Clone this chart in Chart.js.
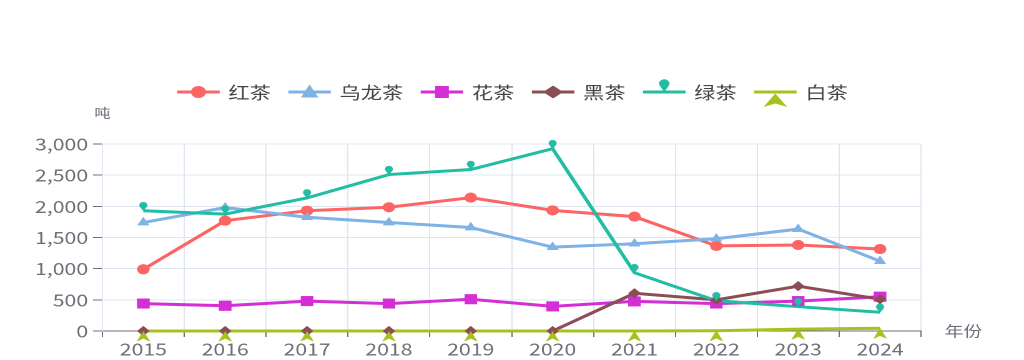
<!DOCTYPE html>
<html><head><meta charset="utf-8">
<script src="https://cdn.jsdelivr.net/npm/chart.js@4.4.1/dist/chart.umd.min.js"></script>
<style>
html,body{margin:0;padding:0;background:#fff;overflow:hidden;width:1024px;height:360px}
#wrap{position:absolute;left:0;top:0;width:820px;height:360px;transform:scaleX(1.24878);transform-origin:0 0}
</style></head><body>
<div id="wrap"><canvas id="c"></canvas></div>
<script>
// ---- data ----
const years = ['2015','2016','2017','2018','2019','2020','2021','2022','2023','2024'];
const blackTeaRed = [990, 1770, 1930, 1985, 2140, 1935, 1835, 1365, 1380, 1315];   // 红茶
const oolongTea   = [1740, 1980, 1825, 1740, 1660, 1345, 1400, 1480, 1635, 1120]; // 乌龙茶
const flowerTea   = [440, 405, 480, 440, 510, 395, 475, 440, 480, 550];           // 花茶
const darkTea     = [0, 0, 0, 0, 0, 0, 605, 500, 720, 510];                       // 黑茶
const greenTea    = [1930, 1875, 2135, 2510, 2590, 2925, 935, 485, 390, 300];     // 绿茶
const whiteTea    = [0, 0, 0, 0, 0, 0, 0, 5, 30, 45];                              // 白茶
const seriesNames = ['红茶', '乌龙茶', '花茶', '黑茶', '绿茶', '白茶'];
const yTickValues = [0, 500, 1000, 1500, 2000, 2500, 3000];
const yAxisName = '吨';
const xAxisName = '年份';

// ---- styles ----
const seriesData = [blackTeaRed, oolongTea, flowerTea, darkTea, greenTea, whiteTea];
const colors = ['#fd6464', '#7fb2e5', '#d42fd4', '#8b4e55', '#22bda3', '#a6c21c'];
const FONT = '"Noto Sans CJK SC", "Noto Sans", sans-serif';
const AXIS_COLOR = '#6e7079';
const GRID_COLOR = '#e0e6f1';

function pinPath(g, x, tipY, r, h) {
  const cy = tipY - h;
  const ty = r * r / h, tx = Math.sqrt(r * r - ty * ty);
  const a1 = Math.atan2(ty, tx), a2 = Math.PI - a1;
  g.beginPath();
  g.moveTo(x, tipY);
  g.lineTo(x + tx, cy + ty);
  g.arc(x, cy, r, a1, a2, true);
  g.closePath();
}
function arrowPath(g, x, topY, w, h, notch) {
  g.beginPath();
  g.moveTo(x, topY);
  g.lineTo(x + w / 2, topY + h);
  g.lineTo(x, topY + h - notch);
  g.lineTo(x - w / 2, topY + h);
  g.closePath();
}
function makeImage(w, h, fn) {
  const k = 4;
  const c = document.createElement('canvas');
  c.width = w * k; c.height = h * k;
  const g = c.getContext('2d');
  g.scale(k, k);
  fn(g);
  const img = new Image(w, h);
  img.src = c.toDataURL();
  return img;
}
const pinImg = makeImage(10, 20, g => { g.fillStyle = colors[4]; pinPath(g, 5, 10, 3.1, 5.5); g.fill(); });
const arrowImg = makeImage(14, 26, g => { g.fillStyle = colors[5]; arrowPath(g, 7, 13, 10.5, 10.5, 3); g.fill(); });

const pointStyles = ['circle', 'triangle', 'rect', 'rectRot', pinImg, arrowImg];
const pointRadii = [5, 5.5, 7, 5, 5, 6];

// ---- plugins ----
const symbolsOnTop = {
  id: 'symbolsOnTop',
  afterDatasetsDraw(chart) {
    const ctx = chart.ctx;
    chart.data.datasets.forEach((ds, i) => {
      chart.getDatasetMeta(i).data.forEach(p => p.draw(ctx));
    });
  }
};

function drawLegendMarker(g, i, cx, cy, col) {
  g.fillStyle = col;
  g.beginPath();
  if (i === 0) { g.arc(cx, cy, 6, 0, Math.PI * 2); g.fill(); }
  else if (i === 1) { g.moveTo(cx, cy - 7.5); g.lineTo(cx + 7, cy + 5.5); g.lineTo(cx - 7, cy + 5.5); g.closePath(); g.fill(); }
  else if (i === 2) { g.rect(cx - 5.5, cy - 6, 11, 12); g.fill(); }
  else if (i === 3) { g.moveTo(cx, cy - 6.5); g.lineTo(cx + 8, cy); g.lineTo(cx, cy + 6.5); g.lineTo(cx - 8, cy); g.closePath(); g.fill(); }
  else if (i === 4) { pinPath(g, cx, cy, 4.2, 8.5); g.fill(); }
  else { arrowPath(g, cx, cy + 1.5, 19, 13.5, 3.5); g.fill(); }
}

const topLegend = {
  id: 'topLegend',
  afterDraw(chart) {
    const g = chart.ctx;
    g.save();
    g.font = '17px ' + FONT;
    const symW = 34, gap = 7, itemGap = 14, cy = 92;
    const dsets = chart.data.datasets;
    const widths = dsets.map(d => symW + gap + g.measureText(d.label).width);
    const total = widths.reduce((a, b) => a + b, 0) + itemGap * (dsets.length - 1);
    let x = 410.4 - total / 2;
    dsets.forEach((d, i) => {
      g.strokeStyle = d.borderColor;
      g.lineWidth = 3;
      g.beginPath(); g.moveTo(x, cy); g.lineTo(x + symW, cy); g.stroke();
      drawLegendMarker(g, i, x + symW / 2, cy, d.borderColor);
      g.fillStyle = '#444';
      g.textAlign = 'left'; g.textBaseline = 'middle';
      g.fillText(d.label, x + symW + gap, cy + 0.5);
      x += widths[i] + itemGap;
    });
    g.restore();
  }
};

const axisNames = {
  id: 'axisNames',
  afterDraw(chart) {
    const g = chart.ctx;
    g.save();
    g.fillStyle = AXIS_COLOR;
    g.textBaseline = 'middle';
    g.font = '13px ' + FONT;
    g.textAlign = 'center';
    g.fillText(yAxisName, chart.chartArea.left, 113);
    g.font = '15px ' + FONT;
    g.textAlign = 'left';
    g.fillText(xAxisName, chart.chartArea.right + 19, chart.chartArea.bottom);
    g.restore();
  }
};

const chart = new Chart(document.getElementById('c'), {
  type: 'line',
  data: {
    labels: years,
    datasets: seriesNames.map((name, i) => ({
      label: name,
      data: seriesData[i],
      borderColor: colors[i],
      backgroundColor: colors[i],
      pointBackgroundColor: colors[i],
      pointBorderColor: colors[i],
      pointBorderWidth: 0,
      pointStyle: pointStyles[i],
      pointRadius: pointRadii[i],
      borderWidth: 3,
      tension: 0,
      order: seriesNames.length - 1 - i,
      clip: false
    }))
  },
  options: {
    responsive: true,
    maintainAspectRatio: false,
    animation: false,
    devicePixelRatio: 2,
    events: [],
    layout: { padding: { top: 144, right: 82.5, bottom: 0, left: 0 } },
    plugins: { legend: { display: false }, tooltip: { enabled: false } },
    scales: {
      x: {
        offset: true,
        grid: { offset: true, color: GRID_COLOR, tickColor: AXIS_COLOR, tickLength: 6 },
        border: { color: AXIS_COLOR, width: 1 },
        ticks: { color: AXIS_COLOR, font: { family: FONT, size: 17 }, padding: 2, maxRotation: 0, autoSkip: false },
        afterFit(s) { s.height = 29; }
      },
      y: {
        min: yTickValues[0],
        max: yTickValues[yTickValues.length - 1],
        afterBuildTicks(s) { s.ticks = yTickValues.map(v => ({ value: v })); },
        ticks: { color: AXIS_COLOR, font: { family: FONT, size: 17 }, padding: 4,
                 callback: v => Number(v).toLocaleString('en-US') },
        grid: { color: GRID_COLOR, tickColor: AXIS_COLOR, tickLength: 7.5 },
        border: { color: GRID_COLOR, width: 1 },
        afterFit(s) { s.width = 82; }
      }
    }
  },
  plugins: [symbolsOnTop, topLegend, axisNames]
});

Promise.all([pinImg, arrowImg].map(im => (im.decode ? im.decode() : Promise.resolve()).catch(() => {})))
  .then(() => chart.update('none'));
</script>
</body></html>
